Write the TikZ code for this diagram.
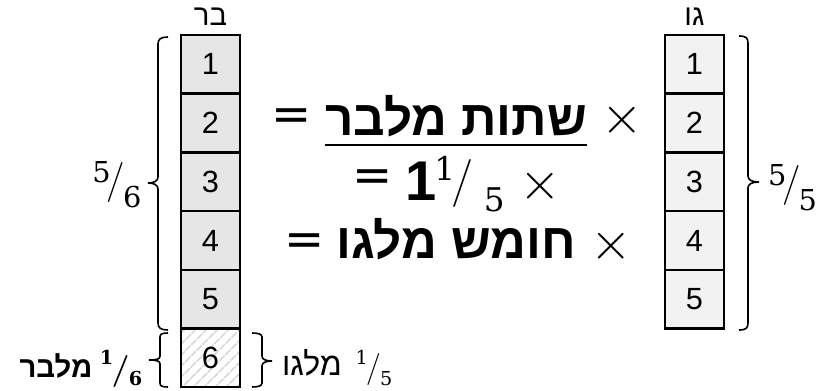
\documentclass[tikz,border=0pt]{standalone}
\usepackage{fontspec}
\usepackage{graphicx}
\usetikzlibrary{patterns.meta,calc}
\TeXXeTstate=1
\newfontfamily\hebf[Script=Hebrew]{Liberation Sans}
\newfontfamily\arialf{Liberation Sans}
\newfontfamily\mathf{Latin Modern Math}
\newfontfamily\dejas{DejaVu Sans}
\newfontfamily\digf{DejaVu Serif}
\definecolor{cellA}{HTML}{E6E6E6}
\definecolor{cellB}{HTML}{F2F2F2}
\definecolor{hatchc}{HTML}{DADADA}
% num, den, raise, lower, scale, kern1, kern2
\newcommand\skf[7]{\raisebox{#3}{\scalebox{#5}{\digf #1}}\kern#6/\kern#7\raisebox{#4}{\scalebox{#5}{\digf #2}}}
\begin{document}
\begin{tikzpicture}[x=0.75pt,y=-0.75pt,
  cell/.style={draw=black, line width=1.8pt, minimum width=44.25pt, minimum height=44pt,
    inner sep=0pt, outer sep=0pt, font=\arialf\fontsize{23}{26}\selectfont},
  cellL/.style={cell, fill=cellA},
  cellR/.style={cell, fill=cellB},
  cellH/.style={cell, pattern={Lines[angle=45,distance=6.5pt,line width=1.6pt]}, pattern color=hatchc},
  brace/.style={draw=black, line width=1.2pt},
  hdr/.style={inner sep=0pt, anchor=base, font=\hebf\fontsize{22}{26}\selectfont},
  bigheb/.style={inner sep=0pt, anchor=base, font=\hebf\bfseries\fontsize{37}{42}\selectfont},
  op/.style={inner sep=0pt, font=\dejas\fontsize{36}{42}\selectfont},
  times/.style={inner sep=0pt, font=\mathf\fontsize{40}{44}\selectfont},
  frac/.style={inner sep=0pt, anchor=base},
]
\path[use as bounding box] (0,0) rectangle (836,390);

% columns
\foreach \i in {1,...,5} {
  \node[cellL] (b\i) at (210.5, {35+58.7*(\i-0.5)}) {\i};
  \node[cellR] (g\i) at (694.5, {35+58.7*(\i-0.5)}) {\i};
}
\node[cellH] (b6) at (210.5, {35+58.7*5.5}) {6};

% headers
\node[hdr] (hb) at (210.5,25) {\beginR בר\endR};
\node[hdr] (hg) at (694.5,25) {\beginR גו\endR};

% braces
\draw[brace] (168,37) .. controls (161,37) and (158,39) .. (158,44) -- (158,177)
  .. controls (158,181) and (154,183) .. (148,183)
  .. controls (154,183) and (158,185) .. (158,189) -- (158,323)
  .. controls (158,328) and (161,330) .. (168,330);
\draw[brace] (739,36) .. controls (746,36) and (748,38) .. (748,43) -- (748,176)
  .. controls (748,180) and (752,182) .. (759,182)
  .. controls (752,182) and (748,184) .. (748,188) -- (748,323)
  .. controls (748,328) and (746,330) .. (739,330);
\draw[brace] (168,333) .. controls (162,333) and (160,334) .. (160,337) -- (160,356)
  .. controls (160,359) and (157,360) .. (149,360)
  .. controls (157,360) and (160,361) .. (160,364) -- (160,383)
  .. controls (160,386) and (162,387) .. (168,387);
\draw[brace] (252,333) .. controls (258,333) and (262,334) .. (262,337) -- (262,356)
  .. controls (262,359) and (265,361) .. (272,361)
  .. controls (265,361) and (262,363) .. (262,366) -- (262,383)
  .. controls (262,386) and (258,387) .. (252,387);

% brace labels
\node[frac, font=\fontsize{30}{34}\selectfont] (fl) at (117,192) {\skf{5}{6}{0.25em}{-0.375em}{0.72}{-0.1em}{-0.05em}};
\node[frac, font=\fontsize{30}{34}\selectfont] (fr) at (792.5,195) {\skf{5}{5}{0.25em}{-0.375em}{0.72}{-0.1em}{-0.05em}};
\node[inner sep=0pt, anchor=base, font=\hebf\bfseries\fontsize{22}{24}\selectfont] (wl) at (56,377) {\beginR מלבר\endR};
\node[frac, font=\bfseries\fontsize{24}{28}\selectfont] (fbl) at (121,379) {\skf{\bfseries 1}{\bfseries 6}{0.45em}{-0.2em}{0.6}{-0.05em}{-0.02em}};
\node[inner sep=0pt, anchor=base, font=\hebf\fontsize{24}{28}\selectfont] (wr) at (312,375) {\beginR מלגו\endR};
\node[frac, font=\fontsize{24}{28}\selectfont] (fbr) at (374,377) {\skf{1}{5}{0.38em}{-0.25em}{0.6}{-0.05em}{-0.02em}};

% middle text
\node[op] (eq1) at (292,120) {=};
\node[bigheb] (h1) at (456,135) {\beginR שתות מלבר\endR};
\draw[line width=2.2pt] ($(h1.base west)+(0,10)$) -- ($(h1.base east)+(0,10)$);
\node[times] (x1) at (622.5,120) {×};

\node[op] (eq2) at (372.5,181) {=};
\node[inner sep=0pt, anchor=base, font=\arialf\bfseries\fontsize{42}{46}\selectfont] (one2) at (421,200) {1};
\node[frac, anchor=base west, font=\fontsize{36}{40}\selectfont] (fr2) at (434,195) {\skf{1}{5}{0.31em}{-0.35em}{0.68}{-0.08em}{0.22em}};
\node[times] (x2) at (540,186) {×};

\node[op] (eq3) at (305,245) {=};
\node[bigheb] (h3) at (456,258) {\beginR חומש מלגו\endR};
\node[times] (x3) at (611,246) {×};
\end{tikzpicture}
\end{document}
